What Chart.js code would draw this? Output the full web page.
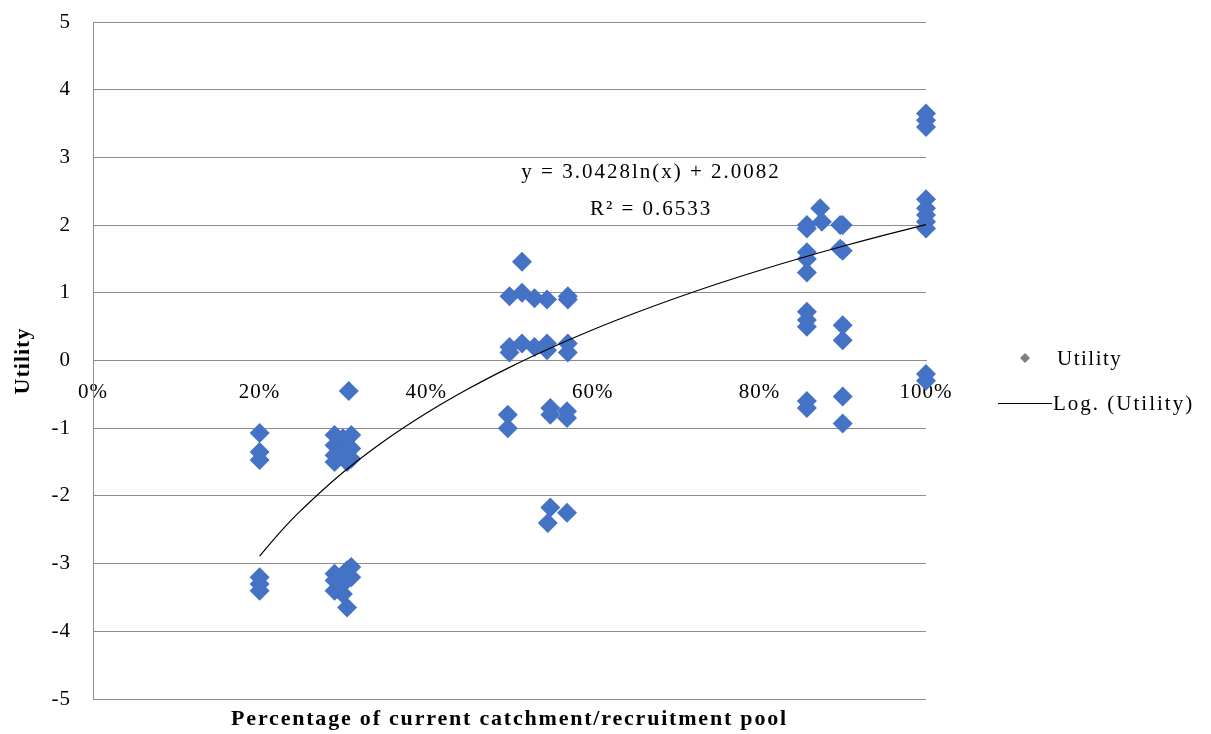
<!DOCTYPE html>
<html>
<head>
<meta charset="utf-8">
<script src="https://cdn.jsdelivr.net/npm/chart.js@4/dist/chart.umd.min.js"></script>
<style>
  body { margin: 0; background: #fff; }
</style>
</head>
<body>
<canvas id="chart" width="1211" height="734"></canvas>
<script>
// share of the current pool (0..1) and utility for each respondent point
const pointX = [
  0.2, 0.2, 0.2, 0.2, 0.2, 0.2,
  0.29, 0.29, 0.29, 0.29, 0.3, 0.3, 0.31, 0.31, 0.31, 0.305, 0.307,
  0.29, 0.29, 0.29, 0.3, 0.305, 0.31, 0.31, 0.3, 0.305,
  0.515,
  0.5, 0.515, 0.53, 0.545, 0.57, 0.57,
  0.5, 0.5, 0.515, 0.53, 0.545, 0.545, 0.57, 0.57,
  0.498, 0.498, 0.549, 0.549, 0.569, 0.569,
  0.549, 0.569, 0.546,
  0.857, 0.857, 0.857, 0.857, 0.857, 0.873, 0.875, 0.897, 0.9, 0.9, 0.897,
  0.857, 0.857, 0.857, 0.9, 0.9,
  0.857, 0.857, 0.9, 0.9,
  1.0, 1.0, 1.0, 1.0, 1.0, 1.0, 1.0, 1.0, 1.0, 1.0
];
const pointY = [
  -1.07, -1.35, -1.47, -3.2, -3.3, -3.4,
  -1.1, -1.25, -1.4, -1.5, -1.15, -1.35, -1.1, -1.3, -1.45, -1.5, -0.45,
  -3.15, -3.25, -3.4, -3.3, -3.1, -3.05, -3.2, -3.45, -3.65,
  1.46,
  0.95, 1.0, 0.92, 0.9, 0.9, 0.95,
  0.2, 0.12, 0.25, 0.2, 0.25, 0.15, 0.25, 0.12,
  -0.8, -1.0, -0.7, -0.8, -0.75, -0.85,
  -2.17, -2.25, -2.4,
  2.0, 1.95, 1.6, 1.5, 1.3, 2.25, 2.05, 2.0, 2.0, 1.62, 1.65,
  0.72, 0.6, 0.5, 0.52, 0.3,
  -0.6, -0.7, -0.53, -0.93,
  3.65, 3.55, 3.45, 2.38, 2.25, 2.15, 2.05, 1.95, -0.2, -0.3
];

// logarithmic trend line as drawn
const trendX = [0.2, 0.225, 0.25, 0.3, 0.35, 0.4, 0.45, 0.5, 0.55, 0.6, 0.65, 0.7, 0.75, 0.8, 0.85, 0.9, 0.95, 1.0];
const trendY = [-2.889, -2.531, -2.210, -1.655, -1.186, -0.780, -0.422, -0.101, 0.189, 0.454, 0.697, 0.923, 1.133, 1.329, 1.514, 1.688, 1.852, 2.008];

const xTicks = [0, 0.2, 0.4, 0.6, 0.8, 1.0];
const equationText = ['y = 3.0428ln(x) + 2.0082', 'R² = 0.6533'];
const legendLabels = ['Utility', 'Log. (Utility)'];
const xTitle = 'Percentage of current catchment/recruitment pool';
const yTitle = 'Utility';

const serif = '"Liberation Serif", "Times New Roman", serif';
const gridColor = '#8c8c8c';

const scatterData = pointX.map((x, i) => ({ x, y: pointY[i] }));
const trendData = trendX.map((x, i) => ({ x, y: trendY[i] }));

// the source text is a bit stretched sideways, so space letters out a touch
const spacing = {
  id: 'spacing',
  beforeDraw(chart) { chart.ctx.letterSpacing = '1px'; },
  afterDraw(chart) { chart.ctx.letterSpacing = '0px'; }
};

// titles, equation label and the legend on the right
const extras = {
  id: 'extras',
  afterDraw(chart) {
    const c = chart.ctx;
    const xs = chart.scales.x;
    const ys = chart.scales.y;
    const area = chart.chartArea;
    c.save();
    c.letterSpacing = '2px';
    c.fillStyle = '#000';
    c.textBaseline = 'middle';

    c.font = '21px ' + serif;
    c.textAlign = 'center';
    c.fillText(equationText[0], xs.getPixelForValue(0.67), ys.getPixelForValue(2.78));
    c.fillText(equationText[1], xs.getPixelForValue(0.67), ys.getPixelForValue(2.23));

    c.font = 'bold 22px ' + serif;
    c.letterSpacing = '1.8px';
    c.fillText(xTitle, (area.left + area.right) / 2, 719);
    c.save();
    c.translate(23, 361);
    c.rotate(-Math.PI / 2);
    c.letterSpacing = '1px';
    c.fillText(yTitle, 0, 0);
    c.restore();

    const lx = area.right;
    c.fillStyle = '#7f7f7f';
    c.beginPath();
    c.moveTo(lx + 99, 353);
    c.lineTo(lx + 104, 358);
    c.lineTo(lx + 99, 363);
    c.lineTo(lx + 94, 358);
    c.closePath();
    c.fill();
    c.strokeStyle = '#000';
    c.lineWidth = 1;
    c.beginPath();
    c.moveTo(lx + 72, 403.5);
    c.lineTo(lx + 126, 403.5);
    c.stroke();
    c.fillStyle = '#000';
    c.textAlign = 'left';
    c.font = '21px ' + serif;
    c.letterSpacing = '1.5px';
    c.fillText(legendLabels[0], lx + 131, 359);
    c.letterSpacing = '2px';
    c.fillText(legendLabels[1], lx + 127, 404);
    c.restore();
  }
};

new Chart(document.getElementById('chart'), {
  type: 'scatter',
  data: {
    datasets: [
      {
        label: legendLabels[0],
        data: scatterData,
        pointStyle: 'rectRot',
        pointRadius: 10,
        backgroundColor: '#4472c4',
        borderColor: '#4472c4',
        borderWidth: 0,
        clip: false,
        order: 2
      },
      {
        label: legendLabels[1],
        type: 'line',
        data: trendData,
        borderColor: '#000',
        borderWidth: 1.2,
        pointRadius: 0,
        tension: 0.4,
        fill: false,
        order: 1
      }
    ]
  },
  options: {
    responsive: false,
    animation: false,
    layout: { padding: { top: 22, right: 285, left: 0, bottom: 35 } },
    plugins: {
      legend: { display: false },
      tooltip: { enabled: false }
    },
    scales: {
      x: {
        type: 'linear',
        min: 0,
        max: 1,
        position: { y: 0 },
        afterBuildTicks: s => { s.ticks = xTicks.map(v => ({ value: v })); },
        afterFit: s => { s.paddingTop = 0; s.paddingBottom = 0; s.paddingLeft = 0; s.paddingRight = 0; },
        grid: { display: false },
        border: { display: true, color: gridColor },
        ticks: {
          padding: 11,
          maxRotation: 0,
          color: '#000',
          font: { family: serif, size: 21 },
          callback: v => Math.round(v * 100) + '%'
        }
      },
      y: {
        min: -5,
        max: 5,
        ticks: {
          stepSize: 1,
          padding: 22,
          color: '#000',
          font: { family: serif, size: 21 }
        },
        grid: { color: gridColor, drawTicks: false },
        border: { display: true, color: gridColor },
        afterFit: s => { s.width = 93; s.paddingTop = 0; s.paddingBottom = 0; }
      }
    }
  },
  plugins: [spacing, extras]
});
</script>
</body>
</html>
